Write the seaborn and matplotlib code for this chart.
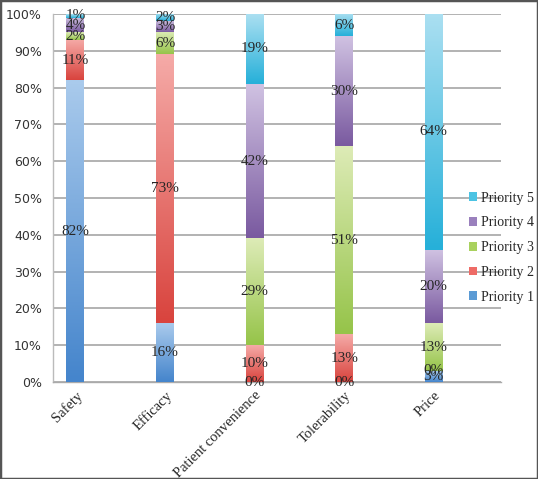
import numpy as np
import pandas as pd
import matplotlib
matplotlib.use("Agg")
import matplotlib.pyplot as plt
import seaborn as sns
from matplotlib.colors import LinearSegmentedColormap
from matplotlib.patches import Patch, Rectangle

# ---------------- data ----------------
factors = ["Safety", "Efficacy", "Patient convenience", "Tolerability", "Price"]
priorities = ["Priority 1", "Priority 2", "Priority 3", "Priority 4", "Priority 5"]
p1 = [82, 16, 0, 0, 3]
p2 = [11, 73, 10, 13, 0]
p3 = [2, 6, 29, 51, 13]
p4 = [4, 3, 42, 30, 20]
p5 = [1, 2, 19, 6, 64]
yticks = [0, 10, 20, 30, 40, 50, 60, 70, 80, 90, 100]

series = [p1, p2, p3, p4, p5]
# gradient colours (bottom dark -> top light) per priority
grad = [("#4585CC", "#A9CAEC"),
        ("#D9443E", "#F5AAA7"),
        ("#96C44A", "#DDEBB6"),
        ("#7A5AA0", "#D0C2E2"),
        ("#26B0D9", "#AADFF1")]
legend_cols = ["#5B9BD5", "#EE6B66", "#A9D15E", "#9A80BD", "#4CC3E3"]

sns.set_style("white")
plt.rcParams["font.family"] = ["Liberation Serif", "DejaVu Serif"]

W, H = 538, 479
fig = plt.figure(figsize=(W / 100, H / 100), dpi=100)
ax = fig.add_axes([53 / W, 1 - 382 / H, 448 / W, 368 / H])

# category order with empty slots between real categories
order = []
for i, f in enumerate(factors):
    order.append(f)
    order.append(" " * (i + 1))
pos_of = {f: 2 * i for i, f in enumerate(factors)}

rows = []
for pr, vals in zip(priorities, series):
    for f, v in zip(factors, vals):
        rows.append({"Factor": f, "Priority": pr, "Value": v})
df = pd.DataFrame(rows)

cum = np.zeros(len(factors))
for k, pr in enumerate(priorities):
    sub = df[df["Priority"] == pr]
    n_before = len(ax.patches)
    sns.barplot(data=sub, x="Factor", y="Value", order=order, color=grad[k][0],
                width=0.40, errorbar=None, ax=ax, zorder=3)
    new = ax.patches[n_before:]
    cmap = LinearSegmentedColormap.from_list(f"g{k}", [grad[k][0], grad[k][1]])
    for p in new:
        xc = p.get_x() + p.get_width() / 2
        idx = int(round(xc / 2))
        v = series[k][idx]
        b = cum[idx]
        p.set_y(b)
        p.set_height(v)
        p.set_facecolor("none")
        p.set_edgecolor("none")
        if v > 0:
            g = np.linspace(0, 1, 64).reshape(-1, 1)
            ax.imshow(g, extent=[p.get_x(), p.get_x() + p.get_width(), b, b + v],
                      origin="lower", aspect="auto", cmap=cmap, zorder=3,
                      interpolation="bilinear")
        ax.text(xc, b + v / 2, f"{v}%", ha="center", va="center", fontsize=11,
                color="#262626", zorder=5)
    cum += np.array(series[k])

ax.set_xlim(-0.5, 9.5)
ax.set_ylim(0, 100)
ax.set_xlabel("")
ax.set_ylabel("")

ax.set_yticks(yticks)
ax.set_yticklabels([f"{t}%" for t in yticks], fontsize=9, color="#333333",
                   family=["DejaVu Sans"])
ax.set_xticks([pos_of[f] for f in factors])
ax.set_xticklabels(factors, rotation=45, ha="right", rotation_mode="anchor",
                   fontsize=10.5, color="#262626")
ax.set_xticks(np.arange(-0.5, 10, 1.0), minor=True)
ax.tick_params(axis="x", which="major", length=0, pad=5)
ax.tick_params(axis="x", which="minor", length=4, width=0.8, color="#999999", direction="out")
ax.tick_params(axis="y", which="major", length=5, width=0.8, color="#999999",
               direction="out", pad=3)

ax.grid(axis="y", color="#A6A6A6", linewidth=1.2, zorder=0)
ax.set_axisbelow(True)
for s in ["top", "right"]:
    ax.spines[s].set_visible(False)
ax.spines["left"].set_color("#BBBBBB")
ax.spines["bottom"].set_color("#AAAAAA")
ax.spines["left"].set_linewidth(1.0)
ax.spines["bottom"].set_linewidth(1.0)

handles = [Patch(facecolor=legend_cols[k], edgecolor="none", label=priorities[k])
           for k in range(4, -1, -1)]
fig.legend(handles=handles, loc="upper left", bbox_to_anchor=(463 / W, 1 - 186 / H),
           frameon=False, fontsize=10, handlelength=0.6, handleheight=0.6,
           handletextpad=0.3, labelspacing=0.85, borderaxespad=0)

fig.patches.append(Rectangle((0, 0), 1, 1, transform=fig.transFigure, fill=False,
                             edgecolor="#555555", linewidth=2.5))

fig.savefig("out.png", dpi=100)
